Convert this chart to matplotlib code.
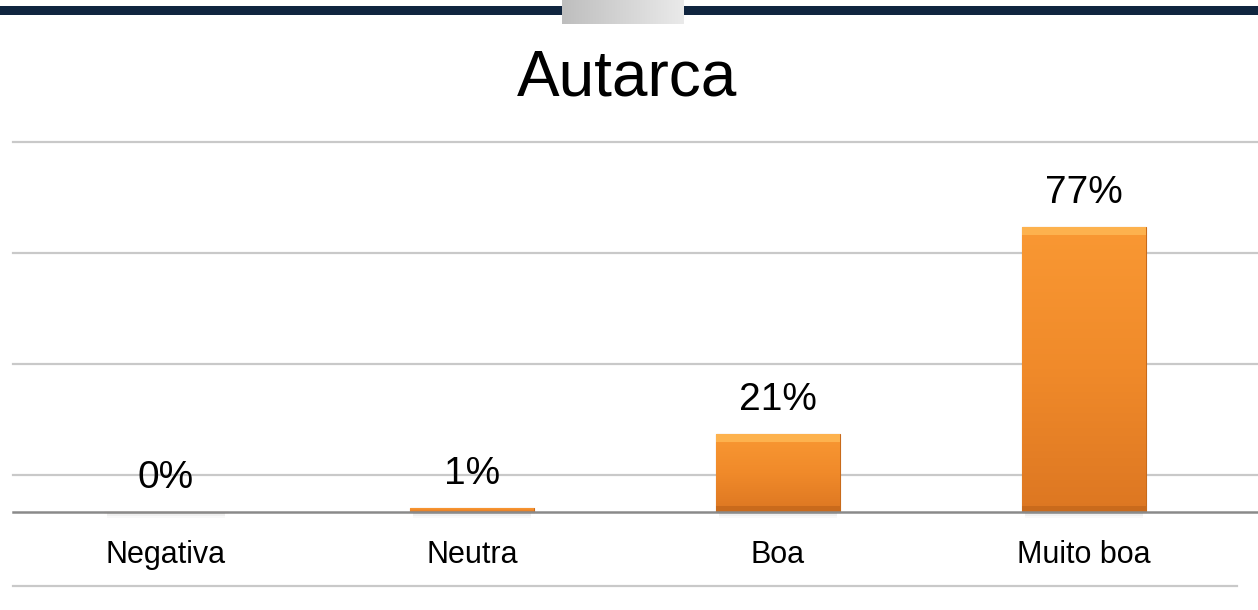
import numpy as np
import matplotlib.pyplot as plt
from matplotlib.patches import Rectangle

categories = ["Negativa", "Neutra", "Boa", "Muito boa"]
values = [0, 1, 21, 77]
labels = ["0%", "1%", "21%", "77%"]
grid_levels = [10, 40, 70, 100]

W, H = 1258, 610
fig = plt.figure(figsize=(W / 100, H / 100), dpi=100)
fig.patch.set_facecolor("white")

# ── header decoration ───────────────────────────────────
deco = fig.add_axes([0, 0, 1, 1], zorder=5)
deco.axis("off")
deco.add_patch(Rectangle((0, 6), W, 9, color="#10253F", lw=0))
grad = np.linspace(0, 1, 100).reshape(1, -1)
deco.imshow(grad, cmap=plt.matplotlib.colors.LinearSegmentedColormap.from_list(
    "g", ["#BEBEBE", "#EAEAEA"]), extent=(562, 684, 24, 0), aspect="auto", zorder=6)
deco.set_xlim(0, W)
deco.set_ylim(H, 0)
deco.patch.set_alpha(0)

fig.text(627 / W, 1 - 95 / H, "Autarca", ha="center", va="baseline",
         fontsize=46, family="Liberation Sans", color="black")

# ── chart ───────────────────────────────────────────────
left, right, top, bottom = 13, 1237, 142, 586
ax = fig.add_axes([left / W, 1 - bottom / H, (right - left) / W, (bottom - top) / H])
ax.axis("off")

ext = (W - left) / (right - left)
for g in grid_levels:
    ax.axhline(g, xmin=0, xmax=ext, color="#C9C9C9", lw=1.6, clip_on=False, zorder=0)
ax.axhline(-20, xmin=0, xmax=1, color="#C9C9C9", lw=1.6, clip_on=False, zorder=0)
ax.axhline(0, xmin=0, xmax=ext, color="#8A8A8A", lw=1.8, clip_on=False, zorder=3)

x = np.arange(len(categories))
bw = 0.405
cmap = plt.matplotlib.colors.LinearSegmentedColormap.from_list(
    "o", ["#DD7722", "#F08A2A", "#F99833"])

# soft shadow under the bars
for xi, v in zip(x, values):
    for k, a in enumerate([0.10, 0.07, 0.04]):
        ax.add_patch(Rectangle((xi - bw / 2 + 0.01, -0.6 - 0.5 * k), bw - 0.02, v + 0.2 + 0.5 * k,
                               color="#7F7F7F", alpha=a, lw=0, zorder=1))

bars = ax.bar(x, values, width=bw, color="#F0892A", edgecolor="#C86A1A",
              linewidth=0.8, zorder=2)
for b, v in zip(bars, values):
    if v <= 0:
        continue
    x0, w = b.get_x(), b.get_width()
    im = ax.imshow(np.linspace(0, 1, 100).reshape(-1, 1), cmap=cmap, origin="lower",
                   extent=(x0, x0 + w, 0, v), aspect="auto", zorder=2.5)
    im.set_clip_path(b)
    if v > 5:
        # bevel highlight on top edge
        ax.add_patch(Rectangle((x0, v - 2.2), w, 2.2, color="#FDB24E", lw=0, zorder=2.6))
        ax.add_patch(Rectangle((x0, 0), w, 1.6, color="#C96A1C", lw=0, zorder=2.6))
ax.set_xlim(-0.5, 3.5)
ax.set_ylim(-20, 100)

for xi, v, lab in zip(x, values, labels):
    ax.annotate(lab, (xi, v), xytext=(0, 24), textcoords="offset pixels",
                ha="center", va="baseline", fontsize=28,
                family="Liberation Sans", color="black", zorder=4)

for xi, cat in zip(x, categories):
    ax.annotate(cat, (xi, 0), xytext=(0, -51), textcoords="offset pixels",
                ha="center", va="baseline", fontsize=22,
                family="Liberation Sans", color="black")

plt.savefig("out.png", dpi=100)
